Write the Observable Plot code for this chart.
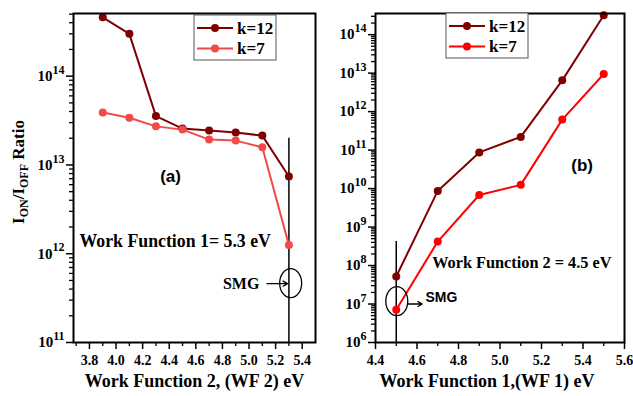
<!DOCTYPE html>
<html><head><meta charset="utf-8">
<script src="https://cdn.jsdelivr.net/npm/d3@7"></script>
<script src="https://cdn.jsdelivr.net/npm/@observablehq/plot@0.6"></script>
<style>
body{margin:0;background:#fff;}
#root{position:relative;width:633px;height:396px;overflow:hidden;background:#fff;}
#root svg{position:absolute;top:0;}
</style></head><body><div id="root"></div>
<script>
// ---- data ----
const seriesNames = ["k=12", "k=7"];
const wf2A = [3.9, 4.1, 4.3, 4.5, 4.7, 4.9, 5.1, 5.3];
const ratioA_k12 = [4.6e14, 3.0e14, 3.55e13, 2.57e13, 2.45e13, 2.32e13, 2.14e13, 7.4e12];
const ratioA_k7 = [3.9e13, 3.4e13, 2.72e13, 2.5e13, 1.93e13, 1.88e13, 1.58e13, 1.25e12];
const wf1B = [4.5, 4.7, 4.9, 5.1, 5.3, 5.5];
const ratioB_k12 = [5.2e7, 8.7e9, 8.7e10, 2.2e11, 6.5e12, 3.2e14];
const ratioB_k7 = [7.1e6, 4.2e8, 6.8e9, 1.25e10, 6.2e11, 9.5e12];
const xTicksA = [3.8, 4.0, 4.2, 4.4, 4.6, 4.8, 5.0, 5.2, 5.4];
const xTicksB = [4.4, 4.6, 4.8, 5.0, 5.2, 5.4, 5.6];
const yExpA = [11, 12, 13, 14];
const yExpB = [6, 7, 8, 9, 10, 11, 12, 13, 14];
const xLabelA = "Work Function 2, (WF 2) eV";
const xLabelB = "Work Function 1,(WF 1) eV";
const noteA = "Work Function 1= 5.3 eV";
const noteB = "Work Function 2 = 4.5 eV";

const SERIF = "Liberation Serif";
const SANS = "Liberation Sans";

function panel(cfg) {
  const rows = [];
  cfg.series.forEach(s => s.y.forEach((v, i) => rows.push({x: cfg.x[i], y: v, k: s.name})));
  const [lo, hi] = cfg.yDomain;
  const minorY = [];
  for (let e = Math.floor(Math.log10(lo)); e <= Math.ceil(Math.log10(hi)); e++)
    for (let m = 2; m <= 9; m++) { const v = m * Math.pow(10, e); if (v > lo && v < hi) minorY.push(v); }
  const minorX = [];
  for (let i = 0; i < cfg.xTicks.length; i++) {
    const a = +(cfg.xTicks[i] - 0.1).toFixed(2), b = +(cfg.xTicks[i] + 0.1).toFixed(2);
    if (a > cfg.xDomain[0] && !minorX.includes(a)) minorX.push(a);
    if (b < cfg.xDomain[1] && !minorX.includes(b)) minorX.push(b);
  }
  const plot = Plot.plot({
    width: cfg.width, height: 396,
    marginLeft: cfg.ml, marginRight: cfg.mr, marginTop: 13, marginBottom: 54,
    style: {fontFamily: SERIF, fontWeight: "bold", fontSize: "14px", background: "transparent", overflow: "visible"},
    x: {domain: cfg.xDomain, label: null},
    y: {type: "log", domain: cfg.yDomain, label: null},
    color: {domain: seriesNames, range: cfg.colors},
    marks: [
      Plot.axisY({ticks: cfg.yExp.map(e => Math.pow(10, e)), tickSize: 7, tickPadding: 2, strokeWidth: 1.5,
        label: null, fontSize: 15, fill: "black",
        tickFormat: d => "10^" + Math.round(Math.log10(d))}),
      Plot.axisY({ticks: minorY, tickSize: 4, strokeWidth: 1.3, label: null, tickFormat: () => ""}),
      Plot.axisX({ticks: cfg.xTicks, tickSize: 7, tickPadding: 6, strokeWidth: 1.5, label: null,
        fontSize: 14, fill: "black", tickFormat: d => d.toFixed(1)}),
      Plot.axisX({ticks: minorX, tickSize: 4, strokeWidth: 1.3, label: null, tickFormat: () => ""}),
      Plot.ruleX([cfg.rule.x], {y1: cfg.rule.y1, y2: cfg.rule.y2, stroke: "black", strokeWidth: 1.5}),
      Plot.line(rows, {x: "x", y: "y", z: "k", stroke: "k", strokeWidth: 2}),
      Plot.dot(rows, {x: "x", y: "y", fill: "k", r: 4}),
      Plot.text([cfg.note], {x: cfg.note.x, y: cfg.note.y, text: d => d.t, textAnchor: "start",
        fontFamily: SERIF, fontWeight: "bold", fontSize: cfg.note.size, fill: "black"}),
      Plot.text([cfg.tag], {x: cfg.tag.x, y: cfg.tag.y, text: d => d.t, textAnchor: "middle",
        fontFamily: SANS, fontWeight: "bold", fontSize: 17, fill: "black"}),
      Plot.text([cfg.smg], {x: cfg.smg.x, y: cfg.smg.y, text: d => d.t, textAnchor: cfg.smg.anchor,
        fontFamily: cfg.smg.font, fontWeight: "bold", fontSize: cfg.smg.size, fill: "black"}),
      Plot.arrow([cfg.arrow], {x1: "x1", y1: "y", x2: "x2", y2: "y", headLength: 6, strokeWidth: 1.3, stroke: "black"}),
      Plot.text([cfg.xLabel], {frameAnchor: "bottom", dy: 44, dx: cfg.xLabelDx, fontFamily: SERIF,
        fontWeight: "bold", fontSize: 18, fill: "black"}),
      Plot.frame({stroke: "black", strokeWidth: 2})
    ]
  });
  const svg = d3.select(plot);
  // tick label fonts
  svg.selectAll('g[aria-label$="tick label"]')
    .style("font-family", SERIF).style("font-weight", "bold")
    .selectAll("text").style("font-family", SERIF).style("font-weight", "bold");
  // superscript exponents
  svg.selectAll("text").each(function() {
    const m = /^10\^(\d+)$/.exec(this.textContent);
    if (!m) return;
    const t = d3.select(this);
    t.text(null);
    t.append("tspan").text("10");
    t.append("tspan").attr("dy", "-0.6em").style("font-size", "12px").text(m[1]);
  });
  // ellipse around SMG point
  const sx = plot.scale("x"), sy = plot.scale("y");
  svg.append("ellipse")
    .attr("cx", sx.apply(cfg.ell.x)).attr("cy", sy.apply(cfg.ell.y))
    .attr("rx", 11).attr("ry", 14.5)
    .attr("fill", "none").attr("stroke", "black").attr("stroke-width", 1.3);
  // legend
  const L = cfg.legend;
  const g = svg.append("g");
  g.append("rect").attr("x", L.x).attr("y", L.y).attr("width", L.w).attr("height", L.h)
    .attr("fill", "white").attr("stroke", "#555").attr("stroke-width", 1);
  seriesNames.forEach((n, i) => {
    const yy = L.y + 13 + i * 20.5;
    const c = cfg.colors[i];
    g.append("line").attr("x1", L.x + 3).attr("x2", L.x + 39).attr("y1", yy).attr("y2", yy)
      .attr("stroke", c).attr("stroke-width", 2);
    g.append("circle").attr("cx", L.x + 21).attr("cy", yy).attr("r", 4).attr("fill", c);
    g.append("text").attr("x", L.x + 43).attr("y", yy).attr("dy", "0.35em").attr("text-anchor", "start")
      .attr("fill", "black")
      .style("font-family", SERIF).style("font-weight", "bold").style("font-size", "17px").text(n);
  });
  plot.style.left = cfg.left + "px";
  return plot;
}

const root = document.getElementById("root");

const pa = panel({
  left: 0, width: 320, ml: 73, mr: 5,
  x: wf2A, series: [{name: seriesNames[0], y: ratioA_k12}, {name: seriesNames[1], y: ratioA_k7}],
  colors: ["#800000", "#f24a4a"],
  xDomain: [3.68, 5.5], yDomain: [1e11, Math.pow(10, 14.706)],
  xTicks: xTicksA, yExp: yExpA,
  rule: {x: 5.3, y1: 2e13, y2: 1e11},
  note: {t: noteA, x: 3.725, y: 1.38e12, size: 17.8},
  tag: {t: "(a)", x: 4.41, y: 7.4e12},
  smg: {t: "SMG", x: 5.078, y: 4.6e11, anchor: "end", font: SERIF, size: 16},
  arrow: {x1: 5.135, x2: 5.29, y: 4.6e11},
  ell: {x: 5.317, y: 4.6e11},
  xLabel: xLabelA, xLabelDx: 0,
  legend: {x: 194, y: 15, w: 82, h: 45}
});
root.appendChild(pa);

const pb = panel({
  left: 320, width: 313, ml: 55, mr: 9,
  x: wf1B, series: [{name: seriesNames[0], y: ratioB_k12}, {name: seriesNames[1], y: ratioB_k7}],
  colors: ["#800000", "#ff0000"],
  xDomain: [4.4, 5.6], yDomain: [1e6, Math.pow(10, 14.55)],
  xTicks: xTicksB, yExp: yExpB,
  rule: {x: 4.5, y1: 4.2e8, y2: 1e6},
  note: {t: noteB, x: 4.673, y: 1.15e8, size: 16.3},
  tag: {t: "(b)", x: 5.396, y: 3.9e10},
  smg: {t: "SMG", x: 4.641, y: 1.45e7, anchor: "start", font: SANS, size: 14},
  arrow: {x1: 4.554, x2: 4.625, y: 1e7},
  ell: {x: 4.505, y: 1.15e7},
  xLabel: xLabelB, xLabelDx: -13,
  legend: {x: 126, y: 13, w: 82, h: 45}
});
root.appendChild(pb);

// y-axis title with subscripts
const ya = d3.select(pa).append("text")
  .attr("transform", "translate(24,172) rotate(-90)")
  .attr("text-anchor", "middle").attr("fill", "black")
  .style("font-family", SERIF).style("font-weight", "bold").style("font-size", "17px");
ya.append("tspan").text("I");
ya.append("tspan").style("font-size", "12px").attr("dy", 4).text("ON");
ya.append("tspan").attr("dy", -4).text("/I");
ya.append("tspan").style("font-size", "12px").attr("dy", 4).text("OFF");
ya.append("tspan").attr("dy", -4).text(" Ratio");
</script></body></html>
